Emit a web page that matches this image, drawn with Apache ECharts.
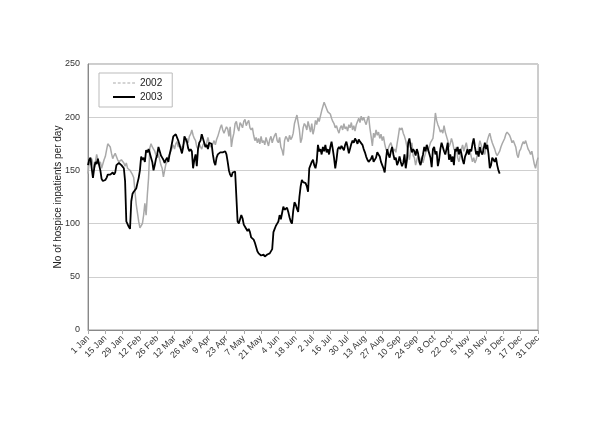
<!DOCTYPE html>
<html>
<head>
<meta charset="utf-8">
<script src="https://cdn.jsdelivr.net/npm/echarts@6/dist/echarts.min.js"></script>
<style>
  html, body { margin: 0; padding: 0; background: #fff; }
  #chart { width: 600px; height: 424px; }
</style>
</head>
<body>
<div id="chart"></div>
<script>
// month names and days per month, used to build the day categories
var months = ['Jan', 'Feb', 'Mar', 'Apr', 'May', 'Jun', 'Jul', 'Aug', 'Sep', 'Oct', 'Nov', 'Dec']
var monthDays = [31, 28, 31, 30, 31, 30, 31, 31, 30, 31, 30, 31]

// daily inpatients, 2002 (full year)
var y2002 = [
  147, 158, 155, 161, 156, 152, 158,
  165, 160, 155, 158, 152, 156, 160,
  163, 169, 175, 174, 172, 166, 161,
  164, 166, 165, 160, 158, 158, 160,
  161, 157, 154, 157, 152, 152, 150,
  149, 146, 143, 130, 118, 110, 102,
  96, 97, 100, 108, 119, 108, 127,
  143, 171, 175, 172, 170, 168, 164,
  162, 165, 160, 155, 152, 144, 150,
  156, 158, 163, 165, 168, 171, 174,
  170, 175, 177, 172, 175, 170, 171,
  174, 176, 178, 180, 176, 182, 184,
  188, 183, 180, 178, 172, 170, 175,
  172, 170, 174, 176, 172, 176, 181,
  176, 172, 171, 175, 178, 174, 179,
  182, 186, 190, 193, 188, 185, 186,
  191, 189, 182, 191, 172, 180, 185,
  194, 196, 190, 187, 195, 193, 190,
  196, 198, 192, 195, 197, 190, 188,
  190, 183, 178, 181, 176, 180, 175,
  182, 176, 178, 174, 181, 177, 173,
  179, 182, 176, 180, 183, 185, 178,
  176, 181, 172, 169, 164, 178, 182,
  180, 177, 183, 179, 181, 185, 194,
  198, 202, 195, 188, 176, 180, 190,
  194, 192, 188, 196, 191, 186, 194,
  184, 189, 197, 193, 199, 196, 201,
  206, 210, 214, 211, 208, 205, 206,
  203, 199, 196, 194, 190, 192, 188,
  185, 190, 192, 188, 194, 189, 191,
  187, 193, 190, 195, 188, 192, 187,
  193, 196, 199, 195, 201, 197, 200,
  196, 193, 198, 201, 190, 182, 173,
  185, 181, 188, 183, 186, 180, 184,
  178, 182, 175, 170, 167, 171, 174,
  176, 172, 168, 170, 167, 175, 182,
  190, 188, 190, 185, 182, 178, 172,
  165, 160, 170, 176, 164, 162, 155,
  160, 164, 162, 158, 163, 157, 162,
  166, 170, 168, 172, 176, 178, 180,
  190, 204, 197, 193, 190, 186, 188,
  185, 192, 186, 182, 178, 172, 175,
  180, 176, 170, 168, 172, 162, 158,
  163, 170, 174, 168, 172, 176, 170,
  165, 168, 163, 158, 162, 157, 160,
  165, 172, 178, 174, 170, 168, 165,
  172, 178, 182, 185, 180, 176, 173,
  170, 166, 164, 165, 168, 172, 175,
  176, 180, 184, 186, 187, 183, 180,
  176, 178, 175, 172, 165, 162, 168,
  170, 174, 177, 175, 178, 174, 170,
  168, 165, 168, 162, 156, 152, 158,
  162
]

// daily inpatients, 2003 (to end of November)
var y2003 = [
  155, 160, 162, 152, 143, 152, 158,
  156, 161, 155, 150, 142, 140, 140,
  141, 143, 146, 145, 146, 147, 148,
  146, 148, 155, 156, 157, 158, 155,
  154, 152, 140, 102, 101, 97, 95,
  121, 128, 130, 131, 133, 138, 143,
  150, 163, 160, 162, 158, 169, 167,
  170, 166, 162, 158, 150, 155, 161,
  165, 172, 168, 164, 162, 160, 157,
  160, 162, 158, 165, 170, 176, 182,
  183, 184, 183, 178, 174, 170, 166,
  172, 182, 183, 177, 171, 168, 170,
  168, 152, 160, 165, 154, 170, 176,
  178, 184, 180, 176, 172, 174, 170,
  176, 177, 175, 165, 158, 155, 162,
  165, 166, 167, 168, 167, 168, 168,
  165, 158, 150, 146, 144, 148, 149,
  149, 148, 102, 100, 104, 108, 105,
  99, 97, 96, 93, 95, 92, 87,
  86, 85, 82, 78, 74, 72, 71,
  70, 70, 71, 69, 70, 71, 70,
  72, 71, 76, 92, 95, 98, 100,
  102, 108, 104, 110, 116, 113, 112,
  115, 111, 106, 102, 100, 112, 120,
  118, 114, 111, 125, 135, 141, 139,
  140, 138, 135, 130, 152, 155, 158,
  160, 155, 152, 158, 174, 168, 170,
  165, 172, 168, 174, 167, 170, 165,
  172, 177, 170, 162, 152, 160, 170,
  172, 170, 173, 171, 169, 174, 177,
  172, 166, 167, 175, 178, 176, 180,
  178, 175, 179, 177, 178, 174, 170,
  167, 163, 160, 158, 157, 161, 164,
  158, 157, 162, 167, 165, 163, 158,
  155, 152, 148, 160, 170, 165, 162,
  168, 172, 165, 160, 162, 155, 158,
  163, 158, 154, 157, 165, 152, 160,
  176, 180, 172, 167, 170, 168, 164,
  170, 166, 158, 155, 160, 165, 172,
  168, 174, 170, 166, 162, 153, 170,
  172, 165, 168, 154, 160, 170, 176,
  172, 168, 165, 170, 176, 160, 165,
  158, 163, 155, 170, 168, 172, 165,
  170, 166, 160, 156, 163, 166, 170,
  165, 170, 168, 175, 180, 172, 165,
  168, 163, 172, 167, 165, 170, 176,
  170, 174, 165, 152, 155, 162, 160,
  158, 162, 155, 150, 147
]

var days = []
for (var m = 0; m < 12; m++) {
  for (var d = 1; d <= monthDays[m]; d++) {
    days.push(d + ' ' + months[m])
  }
}

var chart = echarts.init(document.getElementById('chart'), null, { renderer: 'canvas' })

var font = 'Liberation Sans, Arial, sans-serif'
// legend icons: dashed gray line for 2002, solid line for 2003
var dashIcon = 'path://M0,0h3v1h-3z M5,0h3v1h-3z M10,0h3v1h-3z M15,0h3v1h-3z M20,0h3v1h-3z'

chart.setOption({
  animation: false,
  textStyle: { fontFamily: font },
  grid: {
    left: 88, right: 62, top: 64, bottom: 94,
    show: true, borderColor: '#9a9a9a', borderWidth: 1
  },
  legend: {
    orient: 'vertical',
    left: 99, top: 73,
    padding: [5, 10, 5, 14],
    itemGap: 4,
    itemWidth: 22, itemHeight: 2,
    backgroundColor: '#fff',
    borderColor: '#bbb', borderWidth: 1,
    textStyle: { fontSize: 10, color: '#222', fontFamily: font },
    data: [
      { name: '2002', icon: dashIcon },
      { name: '2003', icon: 'rect' }
    ]
  },
  xAxis: {
    type: 'category',
    data: days,
    boundaryGap: false,
    axisLine: { lineStyle: { color: '#888', width: 1 } },
    axisTick: { interval: 13, length: 4, lineStyle: { color: '#aaa' } },
    axisLabel: {
      interval: 13, rotate: 45, fontSize: 9, color: '#333', margin: 7,
      fontFamily: font
    },
    splitLine: { show: false }
  },
  yAxis: {
    type: 'value',
    min: 0, max: 250, interval: 50,
    name: 'No of hospice inpatients per day',
    nameLocation: 'middle',
    nameGap: 25,
    nameMoveOverlap: false,
    nameTextStyle: { fontSize: 10, color: '#222', fontFamily: font },
    axisLine: { show: true, lineStyle: { color: '#888' } },
    axisTick: { show: false },
    axisLabel: { fontSize: 9, color: '#333', margin: 8, fontFamily: font },
    splitLine: { lineStyle: { color: '#cfcfcf', width: 1 } }
  },
  series: [
    {
      name: '2002', type: 'line', data: y2002,
      symbol: 'none', color: '#a9a9a9',
      lineStyle: { color: '#a9a9a9', width: 1.5 },
      z: 2
    },
    {
      name: '2003', type: 'line', data: y2003,
      symbol: 'none', color: '#000',
      lineStyle: { color: '#000', width: 1.8 },
      z: 3
    }
  ]
})
</script>
</body>
</html>
